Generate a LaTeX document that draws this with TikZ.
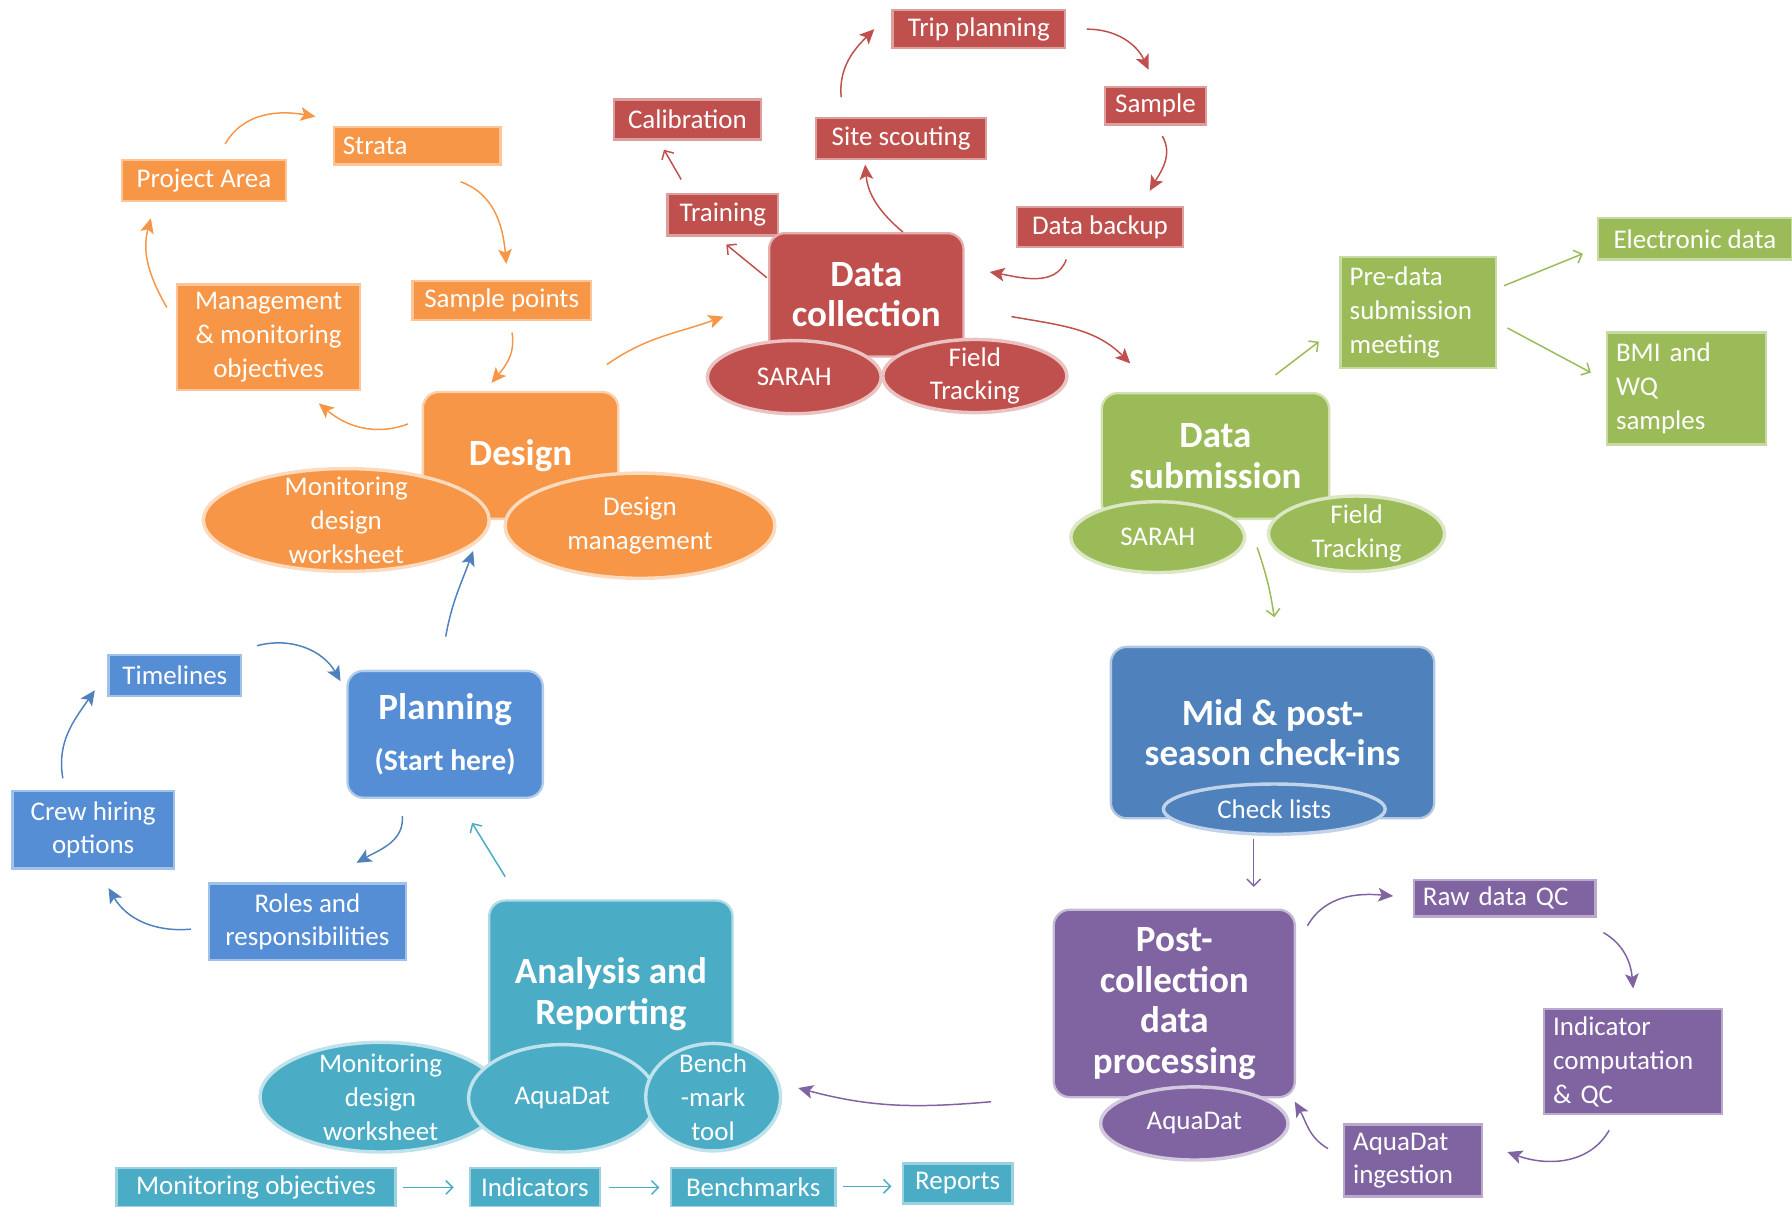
\documentclass[tikz,border=0pt]{standalone}
\usepackage{fontspec}
\setmainfont{Carlito}
\usepackage{tikz}
\usetikzlibrary{shapes.geometric, arrows.meta}

\definecolor{orC}{HTML}{F79646}
\definecolor{rdC}{HTML}{C0504D}
\definecolor{grC}{HTML}{9BBB59}
\definecolor{blC}{HTML}{4F81BD}
\definecolor{plC}{HTML}{558ED5}
\definecolor{tlC}{HTML}{4BACC6}
\definecolor{puC}{HTML}{8064A2}

\newcommand{\smalltxt}{\fontsize{11.8}{14.8}\selectfont}
\newcommand{\headtxt}{\fontsize{16.2}{17.7}\selectfont\bfseries}

\tikzset{
  box/.style={draw=#1!55!white, line width=1pt, fill=#1, text=white, font=\smalltxt, inner sep=0pt, align=center},
  lbox/.style={box=#1, inner xsep=4pt, align=left},
  main/.style={draw=#1!45!white, line width=1pt, fill=#1, rounded corners=7pt, text=white, font=\headtxt, inner sep=0pt, align=center},
  blob/.style={ellipse, draw=#1!35!white, line width=1.5pt, fill=#1, text=white, font=\smalltxt, inner sep=-4pt, align=center},
  carr/.style={draw=#1, line width=0.65pt, -{Stealth[length=6.5pt, width=6pt, inset=1.5pt]}},
  sarr/.style={draw=#1, line width=0.65pt, -{Straight Barb[length=3pt, width=6pt]}},
}

\begin{document}
\begin{tikzpicture}[x=0.5pt, y=-0.5pt]
  \useasboundingbox (0,0) rectangle (1568,1056);

  % Design
  \node[box=orC, minimum width=71.5pt, minimum height=18pt](pa)at(178.5,158){Project Area};
  \node[lbox=orC, text width=65pt, minimum height=16.5pt](st)at(365,127.5){Strata};
  \node[box=orC, minimum width=78pt, minimum height=17pt](sp)at(439,263){Sample points};
  \node[box=orC, minimum width=80pt, minimum height=46pt](mg)at(235,295){Management\\\& monitoring\\objectives};
  \node[main=orC, minimum width=85.5pt, minimum height=55.5pt](des)at(455.5,398.5){Design};
  \node[blob=orC, minimum width=125pt, minimum height=45pt](mdw)at(303,455){Monitoring\\design\\worksheet};
  \node[blob=orC, minimum width=118pt, minimum height=46pt](dm)at(560,460){Design\\management};

  % Data collection
  \node[box=rdC, minimum width=75.5pt, minimum height=16.5pt](tp)at(856.5,25.5){Trip planning};
  \node[box=rdC, minimum width=44pt, minimum height=16.5pt](sa)at(1011,92.5){Sample};
  \node[box=rdC, minimum width=72.5pt, minimum height=17.5pt](db)at(962.5,198.5){Data backup};
  \node[box=rdC, minimum width=74.5pt, minimum height=18pt](ss)at(788.5,121){Site scouting};
  \node[box=rdC, minimum width=64.5pt, minimum height=17.5pt](cal)at(601.5,104.5){Calibration};
  \node[box=rdC, minimum width=48.5pt, minimum height=18pt](tr)at(632.5,188){Training};
  \node[main=rdC, minimum width=85pt, minimum height=54pt](dc)at(758,258){Data\\collection};
  \node[blob=rdC, minimum width=76pt, minimum height=32pt](dcs)at(695,330){SARAH};
  \node[blob=rdC, minimum width=80.5pt, minimum height=32pt](dcf)at(853,329){Field\\Tracking};

  % Data submission
  \node[main=grC, minimum width=99.5pt, minimum height=55pt](ds)at(1063.5,399){Data\\submission};
  \node[blob=grC, minimum width=76pt, minimum height=31pt](dss)at(1013,470){SARAH};
  \node[blob=grC, minimum width=77pt, minimum height=33pt](dsf)at(1187,467){Field\\Tracking};
  \node[lbox=grC, text width=60pt, minimum height=48.5pt](pre)at(1241,273.5){Pre-data\\submission\\meeting};
  \node[box=grC, minimum width=85pt, minimum height=18pt](el)at(1483,209){Electronic data};
  \node[lbox=grC, text width=61.5pt, minimum height=49pt](bmi)at(1475.5,340){BMI and\\WQ\\samples};

  % Check-ins
  \node[main=blC, minimum width=141.5pt, minimum height=75pt](mid)at(1113.5,641){Mid \& post-\\season check-ins};
  \node[blob=blC, minimum width=97pt, minimum height=22pt](cl)at(1115,708){Check lists};

  % Post-collection processing
  \node[main=puC, minimum width=105.5pt, minimum height=82pt](post)at(1027.5,878){Post-\\collection\\data\\processing};
  \node[blob=puC, minimum width=82pt, minimum height=32pt](pad)at(1045,983){AquaDat};
  \node[lbox=puC, text width=71.5pt, minimum height=16pt](raw)at(1316.5,786){Raw data QC};
  \node[lbox=puC, text width=70pt, minimum height=46pt](ind)at(1429,929){Indicator\\computation\\\& QC};
  \node[lbox=puC, text width=52.5pt, minimum height=31.5pt](ing)at(1236.5,1015.5){AquaDat\\ingestion};

  % Planning
  \node[main=plC, minimum width=85.5pt, minimum height=55.5pt](pl)at(389.5,642.5){Planning\\[5pt]{\fontsize{13}{15}\selectfont(Start here)}};
  \node[box=plC, minimum width=58pt, minimum height=18pt](tl)at(153,591){Timelines};
  \node[box=plC, minimum width=70.5pt, minimum height=34pt](crew)at(81.5,726){Crew hiring\\options};
  \node[box=plC, minimum width=86pt, minimum height=33.5pt](roles)at(269,806.5){Roles and\\responsibilities};

  % Analysis and reporting
  \node[main=tlC, minimum width=106.5pt, minimum height=82pt](ana)at(534.5,870){Analysis and\\Reporting};
  \node[blob=tlC, minimum width=105.5pt, minimum height=48pt](amd)at(333,960){Monitoring\\design\\worksheet};
  \node[blob=tlC, minimum width=82pt, minimum height=47pt](aad)at(492,961){AquaDat};
  \node[blob=tlC, minimum width=59pt, minimum height=47pt](abt)at(624,960){Bench\\-mark\\tool};
  \node[box=tlC, minimum width=122pt, minimum height=17pt](mobj)at(224,1039){Monitoring objectives};
  \node[box=tlC, minimum width=57pt, minimum height=17pt](indi)at(468,1039){Indicators};
  \node[box=tlC, minimum width=72pt, minimum height=17pt](bmk)at(659,1039){Benchmarks};
  \node[box=tlC, minimum width=48pt, minimum height=17.5pt](rep)at(838,1035.5){Reports};

  % design loop
  \draw[carr=orC]([shift={(18.5,-13)}]pa.north)to[out=60,in=170]([shift={(-15,-8)}]st.north west);
  \draw[carr=orC]([shift={(38,14)}]st.south)to[out=-20,in=95]([shift={(4,-14)}]sp.north);
  \draw[carr=orC]([shift={(9,10)}]sp.south)to[out=-80,in=50]([shift={(-25.5,-7)}]des.north);
  \draw[carr=orC]([shift={(-12,29)}]des.north west)to[out=200,in=-40]([shift={(-37,11)}]mg.south east);
  \draw[carr=orC]([shift={(-8,21)}]mg.north west)to[out=120,in=-105]([shift={(26,14)}]pa.south west);
  \draw[carr=orC]([shift={(-11,-23)}]des.north east)to[out=35,in=200]([shift={(-39,19)}]dc.west);

  % collection loop
  \draw[carr=rdC]([shift={(23,-17)}]ss.north west)to[out=95,in=225]([shift={(-15,0)}]tp.west);
  \draw[carr=rdC]([shift={(18,0)}]tp.east)to[out=0,in=115]([shift={(-6,-14)}]sa.north);
  \draw[carr=rdC]([shift={(6,9)}]sa.south)to[out=-60,in=60]([shift={(-30,-13)}]db.north east);
  \draw[carr=rdC]([shift={(-29.5,10)}]db.south)to[out=-110,in=-10]([shift={(22,-20)}]dc.east);
  \draw[carr=rdC]([shift={(32,0)}]dc.north)to[out=140,in=-85]([shift={(-31.5,4)}]ss.south);
  \draw[sarr=rdC]([shift={(-1,40)}]dc.north west)--([shift={(3,7)}]tr.south);
  \draw[sarr=rdC]([shift={(13,-12)}]tr.north west)--([shift={(-20.5,8)}]cal.south);
  \draw[carr=rdC]([shift={(41,19)}]dc.east)to[out=-10,in=135]([shift={(26,-25)}]ds.north west);

  % submission
  \draw[sarr=grC]([shift={(52.5,-15)}]ds.north)--([shift={(-18,25.5)}]pre.west);
  \draw[sarr=grC]([shift={(6,-23.5)}]pre.east)--([shift={(-12,13)}]el.west);
  \draw[sarr=grC]([shift={(9,13.5)}]pre.east)--([shift={(-13,-14)}]bmi.west);
  \draw[sarr=grC]([shift={(36.5,24)}]ds.south)to[bend left=5]([shift={(1.5,-25)}]mid.north);

  % processing loop
  \draw[sarr=puC]([shift={(-18,3)}]cl.south)--([shift={(69.5,-19)}]post.north);
  \draw[carr=puC]([shift={(10,15)}]post.north east)to[out=60,in=175]([shift={(-17,-2)}]raw.west);
  \draw[carr=puC]([shift={(6,13)}]raw.south east)to[out=-30,in=95]([shift={(0,-17)}]ind.north);
  \draw[carr=puC]([shift={(-21,13)}]ind.south)to[out=-120,in=-20]([shift={(21,-7.5)}]ing.east);
  \draw[carr=puC]([shift={(-13,-10.5)}]ing.west)to[out=150,in=-60]([shift={(-1,3)}]post.south east);
  \draw[carr=puC]([shift={(-54,86)}]post.west)to[out=185,in=-15]([shift={(14,-8)}]abt.east);

  % planning loop
  \draw[carr=blC]([shift={(13,-7)}]tl.north east)to[out=15,in=120]([shift={(-5,10)}]pl.north west);
  \draw[carr=blC]([shift={(-37.5,15)}]pl.south)to[out=-85,in=30]([shift={(43,-17)}]roles.north);
  \draw[carr=blC]([shift={(-15,6.5)}]roles.west)to[out=185,in=-60]([shift={(13.5,16)}]crew.south);
  \draw[carr=blC]([shift={(-26.5,-10)}]crew.north)to[out=100,in=235]([shift={(-11,13)}]tl.west);
  \draw[carr=blC]([shift={(0.5,-29)}]pl.north)to[out=80,in=250]([shift={(-41.5,27)}]des.south);

  % reporting
  \draw[sarr=tlC]([shift={(15,-20)}]ana.north west)--([shift={(23.5,21)}]pl.south);
  \draw[sarr=tlC, shorten <=3pt, shorten >=6.5pt](mobj.east)--(indi.west);
  \draw[sarr=tlC, shorten <=3.5pt, shorten >=4.5pt](indi.east)--(bmk.west);
  \draw[sarr=tlC, shorten <=3pt, shorten >=4.5pt]([yshift=0.5pt]bmk.east)--([yshift=0.5pt]bmk.east -| rep.west);
\end{tikzpicture}
\end{document}
